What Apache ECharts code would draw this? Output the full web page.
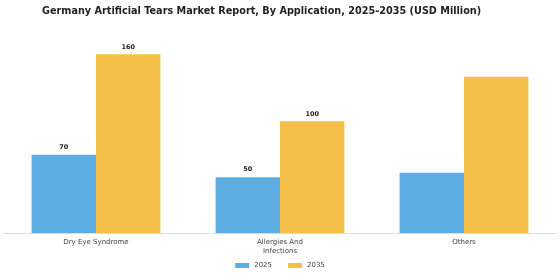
<!DOCTYPE html>
<html>
<head>
<meta charset="utf-8">
<script src="https://cdn.jsdelivr.net/npm/echarts@6/dist/echarts.min.js"></script>
<style>
  html, body { margin: 0; padding: 0; background: #fff; }
  #chart { width: 560px; height: 280px; }
</style>
</head>
<body>
<div id="chart"></div>
<script>
// data
const categories = ["Dry Eye Syndrome", "Allergies And\nInfections", "Others"];
const years = ["2025", "2035"];
const values2025 = [70, 50, 54];
const values2035 = [160, 100, 140];
// the reference only prints values on the first two groups
const showLabel = [true, true, false];

const colors = ["#5dade2", "#f5c04a"];

function toItems(values) {
  return values.map((v, i) => ({
    value: v,
    label: { show: showLabel[i] },
  }));
}

const chart = echarts.init(document.getElementById("chart"));
chart.setOption({
  animation: false,
  title: {
    text: "Germany Artificial Tears Market Report, By Application, 2025-2035 (USD Million)",
    left: 37,
    top: 1,
    textStyle: {
      fontFamily: "DejaVu Sans",
      fontSize: 9.7,
      fontWeight: "bold",
      color: "#222",
    },
  },
  legend: {
    bottom: 6,
    left: "center",
    itemWidth: 14,
    itemHeight: 5,
    itemGap: 16,
    icon: "rect",
    textStyle: { fontFamily: "DejaVu Sans", fontSize: 7, color: "#444" },
    data: years,
  },
  grid: {
    left: 4,
    right: 4,
    top: 32,
    bottom: 47,
  },
  xAxis: {
    type: "category",
    data: categories,
    axisLine: { lineStyle: { color: "#ddd" } },
    axisTick: { show: false },
    axisLabel: {
      fontFamily: "DejaVu Sans",
      fontSize: 7,
      color: "#444",
      margin: 5,
      lineHeight: 9,
    },
  },
  yAxis: {
    type: "value",
    min: 0,
    max: 180,
    show: false,
  },
  series: [
    {
      name: years[0],
      type: "bar",
      data: toItems(values2025),
      barGap: "0%",
      barCategoryGap: "30%",
      itemStyle: { color: colors[0] },
      label: {
        position: "top",
        distance: 4,
        fontFamily: "DejaVu Sans",
        fontSize: 6.5,
        fontWeight: "bold",
        color: "#222",
      },
    },
    {
      name: years[1],
      type: "bar",
      data: toItems(values2035),
      barGap: "0%",
      barCategoryGap: "30%",
      itemStyle: { color: colors[1] },
      label: {
        position: "top",
        distance: 4,
        fontFamily: "DejaVu Sans",
        fontSize: 6.5,
        fontWeight: "bold",
        color: "#222",
      },
    },
  ],
});
</script>
</body>
</html>
